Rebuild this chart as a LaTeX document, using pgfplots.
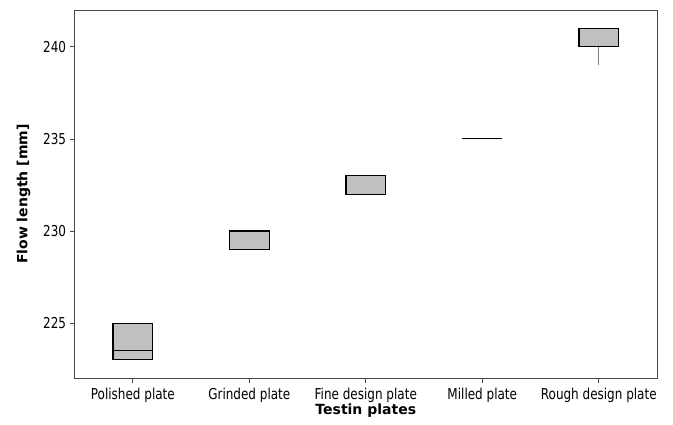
\documentclass[border=0pt]{standalone}
\usepackage{pgfplots}
\pgfplotsset{compat=1.18}
\usepgfplotslibrary{statistics}
\usepackage{fontspec}
\setmainfont{DejaVu Sans}
\newfontfamily\tickfont{DejaVu Sans}[FakeStretch=0.8]
\definecolor{boxgray}{RGB}{192,192,192}
\definecolor{axgray}{RGB}{70,70,70}
\begin{document}
\begin{tikzpicture}
\begin{axis}[
  name=ax,
  width=582.4bp, height=368.3bp, scale only axis,
  xmin=-0.5, xmax=4.5, ymin=222, ymax=242,
  xtick={0,1,2,3,4},
  xticklabels={Polished plate,Grinded plate,Fine design plate,Milled plate,Rough design plate},
  ytick={225,230,235,240},
  tick align=outside, xtick pos=bottom, ytick pos=left,
  major tick length=5bp,
  every tick/.style={axgray, line width=0.8pt},
  axis line style={axgray, line width=0.9pt},
  /pgf/number format/assume math mode=true,
  ticklabel style={font=\tickfont\fontsize{15bp}{17bp}\selectfont},
  xticklabel style={yshift=-1bp},
  label style={font=\bfseries\fontsize{14bp}{16bp}\selectfont},
  xlabel={Testin plates},
  ylabel={Flow length [mm]},
  xlabel style={yshift=5bp},
  ylabel style={yshift=6bp},
  boxplot/draw direction=y,
  boxplot/box extend=0.34,
  boxplot/whisker extend=0,
  clip=false,
]
\addplot+[black, line width=1.1pt, fill=boxgray, mark=none,
  boxplot prepared={draw position=0, lower whisker=223, lower quartile=223, median=223.5, upper quartile=225, upper whisker=225},
  boxplot/every whisker/.style={gray, line width=1pt}]
  coordinates {};
\addplot+[black, line width=1.1pt, fill=boxgray, mark=none,
  boxplot prepared={draw position=1, lower whisker=229, lower quartile=229, median=230, upper quartile=230, upper whisker=230},
  boxplot/every whisker/.style={gray, line width=1pt}]
  coordinates {};
\addplot+[black, line width=1.1pt, fill=boxgray, mark=none,
  boxplot prepared={draw position=2, lower whisker=232, lower quartile=232, median=232, upper quartile=233, upper whisker=233},
  boxplot/every whisker/.style={gray, line width=1pt}]
  coordinates {};
\addplot+[black, line width=1.1pt, fill=boxgray, mark=none,
  boxplot prepared={draw position=3, lower whisker=235, lower quartile=235, median=235, upper quartile=235, upper whisker=235},
  boxplot/every whisker/.style={gray, line width=1pt}]
  coordinates {};
\addplot+[black, line width=1.1pt, fill=boxgray, mark=none,
  boxplot prepared={draw position=4, lower whisker=239, lower quartile=240, median=240, upper quartile=241, upper whisker=241},
  boxplot/every whisker/.style={gray, line width=1pt}]
  coordinates {};
\end{axis}
\pgfresetboundingbox
\path (ax.south west) ++(-74.6bp,-46bp) rectangle ([shift={(16bp,10bp)}]ax.north east);
\end{tikzpicture}
\end{document}
